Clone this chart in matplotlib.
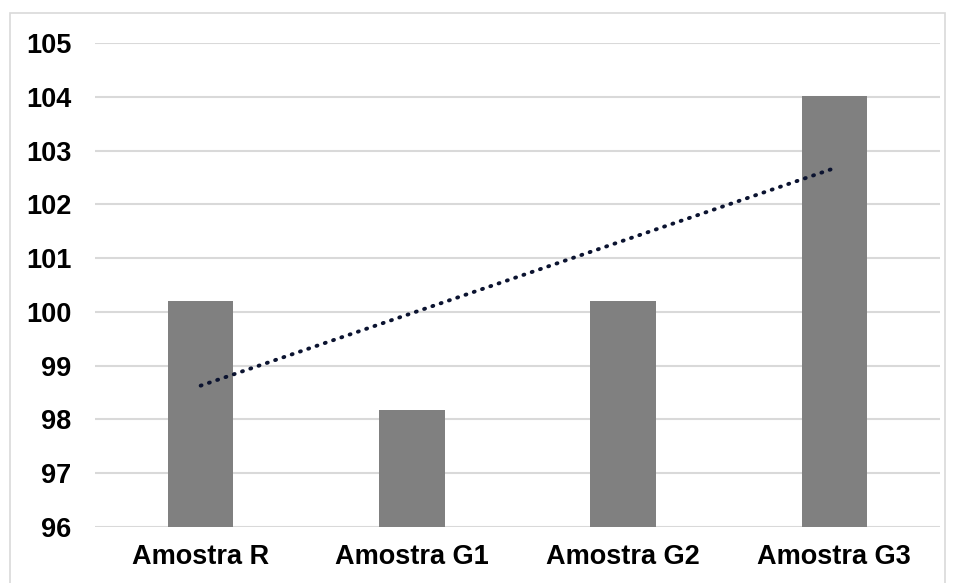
import numpy as np
import matplotlib.pyplot as plt
from matplotlib.patches import Rectangle

plt.rcParams['font.family'] = ['Liberation Sans', 'DejaVu Sans']

amostras = ['Amostra R', 'Amostra G1', 'Amostra G2', 'Amostra G3']
valores = [100.2, 98.18, 100.2, 104.02]
y_ticks = [96, 97, 98, 99, 100, 101, 102, 103, 104, 105]

x = np.arange(len(amostras)) + 1
# linha de tendencia linear (como no Excel)
a, b = np.polyfit(x, valores, 1)

fig = plt.figure(figsize=(9.54, 5.83), dpi=100)
ax = fig.add_axes([0.0996, 0.0961, 0.8857, 0.8301])

ax.bar(x, valores, width=0.31, color='#808080', bottom=0, zorder=2)
ax.plot(x, a*x + b, color='#0b1330', lw=2.8,
        linestyle=(0, (0.25, 2.0)), dash_capstyle='round', zorder=3)

ax.set_ylim(96, 105)
ax.set_xlim(0.5, 4.5)
ax.set_yticks(y_ticks)
ax.set_xticks(x)
ax.set_xticklabels(amostras)
ax.grid(axis='y', color='#d9d9d9', lw=1.5, zorder=0)
ax.set_axisbelow(True)
for s in ax.spines.values():
    s.set_visible(False)
ax.tick_params(axis='both', length=0, labelsize=19.5)
ax.tick_params(axis='y', pad=17)
ax.tick_params(axis='x', pad=12)
for lab in ax.get_xticklabels() + ax.get_yticklabels():
    lab.set_fontweight('bold')

fig.patches.append(Rectangle((10/954, -0.01), 935/954, 1 - 13/583 + 0.01,
                             transform=fig.transFigure, fill=False,
                             edgecolor='#d9d9d9', lw=1.2))

plt.savefig('out.png', dpi=100)
